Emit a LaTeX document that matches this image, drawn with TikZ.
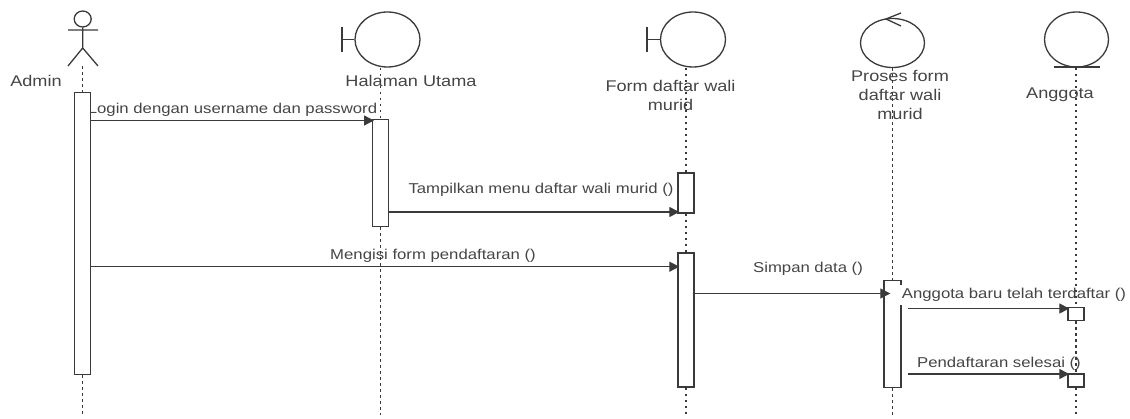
\documentclass[tikz,border=0pt]{standalone}
\usepackage{fontspec}
\setmainfont[FakeStretch=1.17]{Liberation Sans}
\usetikzlibrary{shapes.geometric,arrows.meta}
\definecolor{ink}{HTML}{3A3A3A}
\definecolor{txt}{HTML}{454545}
\tikzset{
  lbl/.style={text=txt,font=\fontsize{14.3}{19}\selectfont,align=center,inner sep=0pt},
  hlbl/.style={text=txt,font=\fontsize{15.5}{19}\selectfont,align=center,inner sep=0pt},
  act/.style={draw=ink,fill=white,line width=1.4pt,minimum width=16pt,inner sep=0pt},
  shp/.style={draw=ink,line width=1.3pt,ellipse,inner sep=0pt},
  ln/.style={draw=ink,line width=1.3pt},
  life/.style={draw=ink,line width=1.4pt,dash pattern=on 2.6pt off 3.4pt},
  msg/.style={draw=ink,line width=1.3pt,-{Triangle[length=10pt,width=10pt]},shorten >=-2pt}
}
\begin{document}
\begin{tikzpicture}[x=1pt,y=-1pt]
\useasboundingbox (0,0) rectangle (1130,419);
% heads
\node[shp,minimum width=17pt,minimum height=16pt] (adminHead) at (82.7,19) {};
\coordinate (adminNeck) at (82.7,48);
\coordinate (adminArmL) at (68,30);
\coordinate (adminArmR) at (98,30);
\coordinate (adminLegL) at (68,66);
\coordinate (adminLegR) at (98,66);
\draw[ln] (adminHead.south) -- (adminNeck) (adminArmL) -- (adminArmR) (adminLegL) -- (adminNeck) -- (adminLegR);
\node[shp,minimum width=65pt,minimum height=55pt] (utama) at (387.5,39.5) {};
\node[shp,minimum width=65pt,minimum height=55pt] (form) at (693,39.5) {};
\node[shp,minimum width=64pt,minimum height=49pt] (proses) at (892.5,43) {};
\node[shp,minimum width=64pt,minimum height=55pt] (anggota) at (1076.5,39.5) {};
\coordinate (utamaBar) at (342,39.5);
\coordinate (formBar) at (647,39.5);
\draw[ln] (utama.west) -- (utamaBar) ++(0,-12.5) -- ++(0,25);
\draw[ln] (form.west) -- (formBar) ++(0,-12.5) -- ++(0,25);
\coordinate (ctlTop) at (901,13);
\coordinate (ctlBot) at (901,26);
\coordinate (ctlTip) at (886,19);
\draw[ln] (ctlTop) -- (ctlTip) -- (ctlBot);
\coordinate (entL) at (1054,67);
\coordinate (entR) at (1100,67);
\draw[ln] (entL) -- (entR);
% labels
\node[hlbl] (tAdmin) at (36,80.5) {Admin};
\node[hlbl] (tUtama) at (411,80.5) {Halaman Utama};
\node[hlbl] (tForm) at (670.5,95.5) {Form daftar wali\\murid};
\node[hlbl] (tProses) at (900,95) {Proses form\\daftar wali\\murid};
\node[hlbl] (tAnggota) at (1060,94.5) {Anggota};
\node[lbl] (m1) at (232.5,109.5) {Login dengan username dan password};
\node[lbl] (m2) at (541,189.5) {Tampilkan menu daftar wali murid ()};
\node[lbl] (m3) at (433,255.5) {Mengisi form pendaftaran ()};
\node[lbl] (m4) at (808,269) {Simpan data ()};
\node[lbl] (m6) at (999,363.5) {Pendaftaran selesai ()};
% activations
\node[act,minimum height=282pt] (aAdmin) at (82.7,233.5) {};
\node[act,minimum height=107.5pt] (aUtama) at (380.7,173) {};
\node[act,minimum height=40pt] (aForm1) at (686,193) {};
\node[act,minimum height=134pt] (aForm2) at (686,320) {};
\node[act,minimum height=106.5pt,minimum width=17pt] (aProses) at (892.5,334) {};
\node[act,minimum height=13.5pt] (aAng1) at (1076,314) {};
\node[act,minimum height=13pt] (aAng2) at (1076,380.5) {};
% label that masks the activation's edge
\node[lbl,fill=white,minimum height=20pt,inner xsep=2pt] (m5) at (1014,295) {\raisebox{-1.5pt}{Anggota baru telah terdaftar ()}};
% message levels
\coordinate (y1) at (0,120.5);
\coordinate (y2) at (0,212);
\coordinate (y3) at (0,266.7);
\coordinate (y4) at (0,293.5);
\coordinate (y5) at (0,308.5);
\coordinate (y6) at (0,374);
\coordinate (x5) at (907.5,0);
\draw[msg] (aAdmin.east |- y1) -- (aUtama.west |- y1);
\draw[msg] (aUtama.east |- y2) -- (aForm1.west |- y2);
\draw[msg] (aAdmin.east |- y3) -- (aForm2.west |- y3);
\draw[msg,shorten >=-7pt] (aForm2.east |- y4) -- (aProses.west |- y4);
\draw[msg] (x5 |- y5) -- (aAng1.west |- y5);
\draw[msg] (x5 |- y6) -- (aAng2.west |- y6);
% lifelines
\coordinate (endY) at (0,415);
\draw[life] (aAdmin |- adminLegL) -- (aAdmin.north);
\draw[life] (aAdmin.south) -- (aAdmin |- endY);
\draw[life] (aUtama |- utama.south) -- (aUtama.north);
\draw[life] (aUtama.south) -- (aUtama |- endY);
\draw[life] (aForm1 |- form.south) -- (aForm1.north);
\draw[life] (aForm1.south) -- (aForm2.north);
\draw[life] (aForm2.south) -- (aForm2 |- endY);
\draw[life] (aProses |- proses.south) -- (aProses.north);
\draw[life] (aProses.south) -- (aProses |- endY);
\draw[life] (aAng1 |- anggota.south) -- (aAng1.north);
\draw[life] (aAng1.south) -- (aAng2.north);
\draw[life] (aAng2.south) -- (aAng2 |- endY);
\end{tikzpicture}
\end{document}
